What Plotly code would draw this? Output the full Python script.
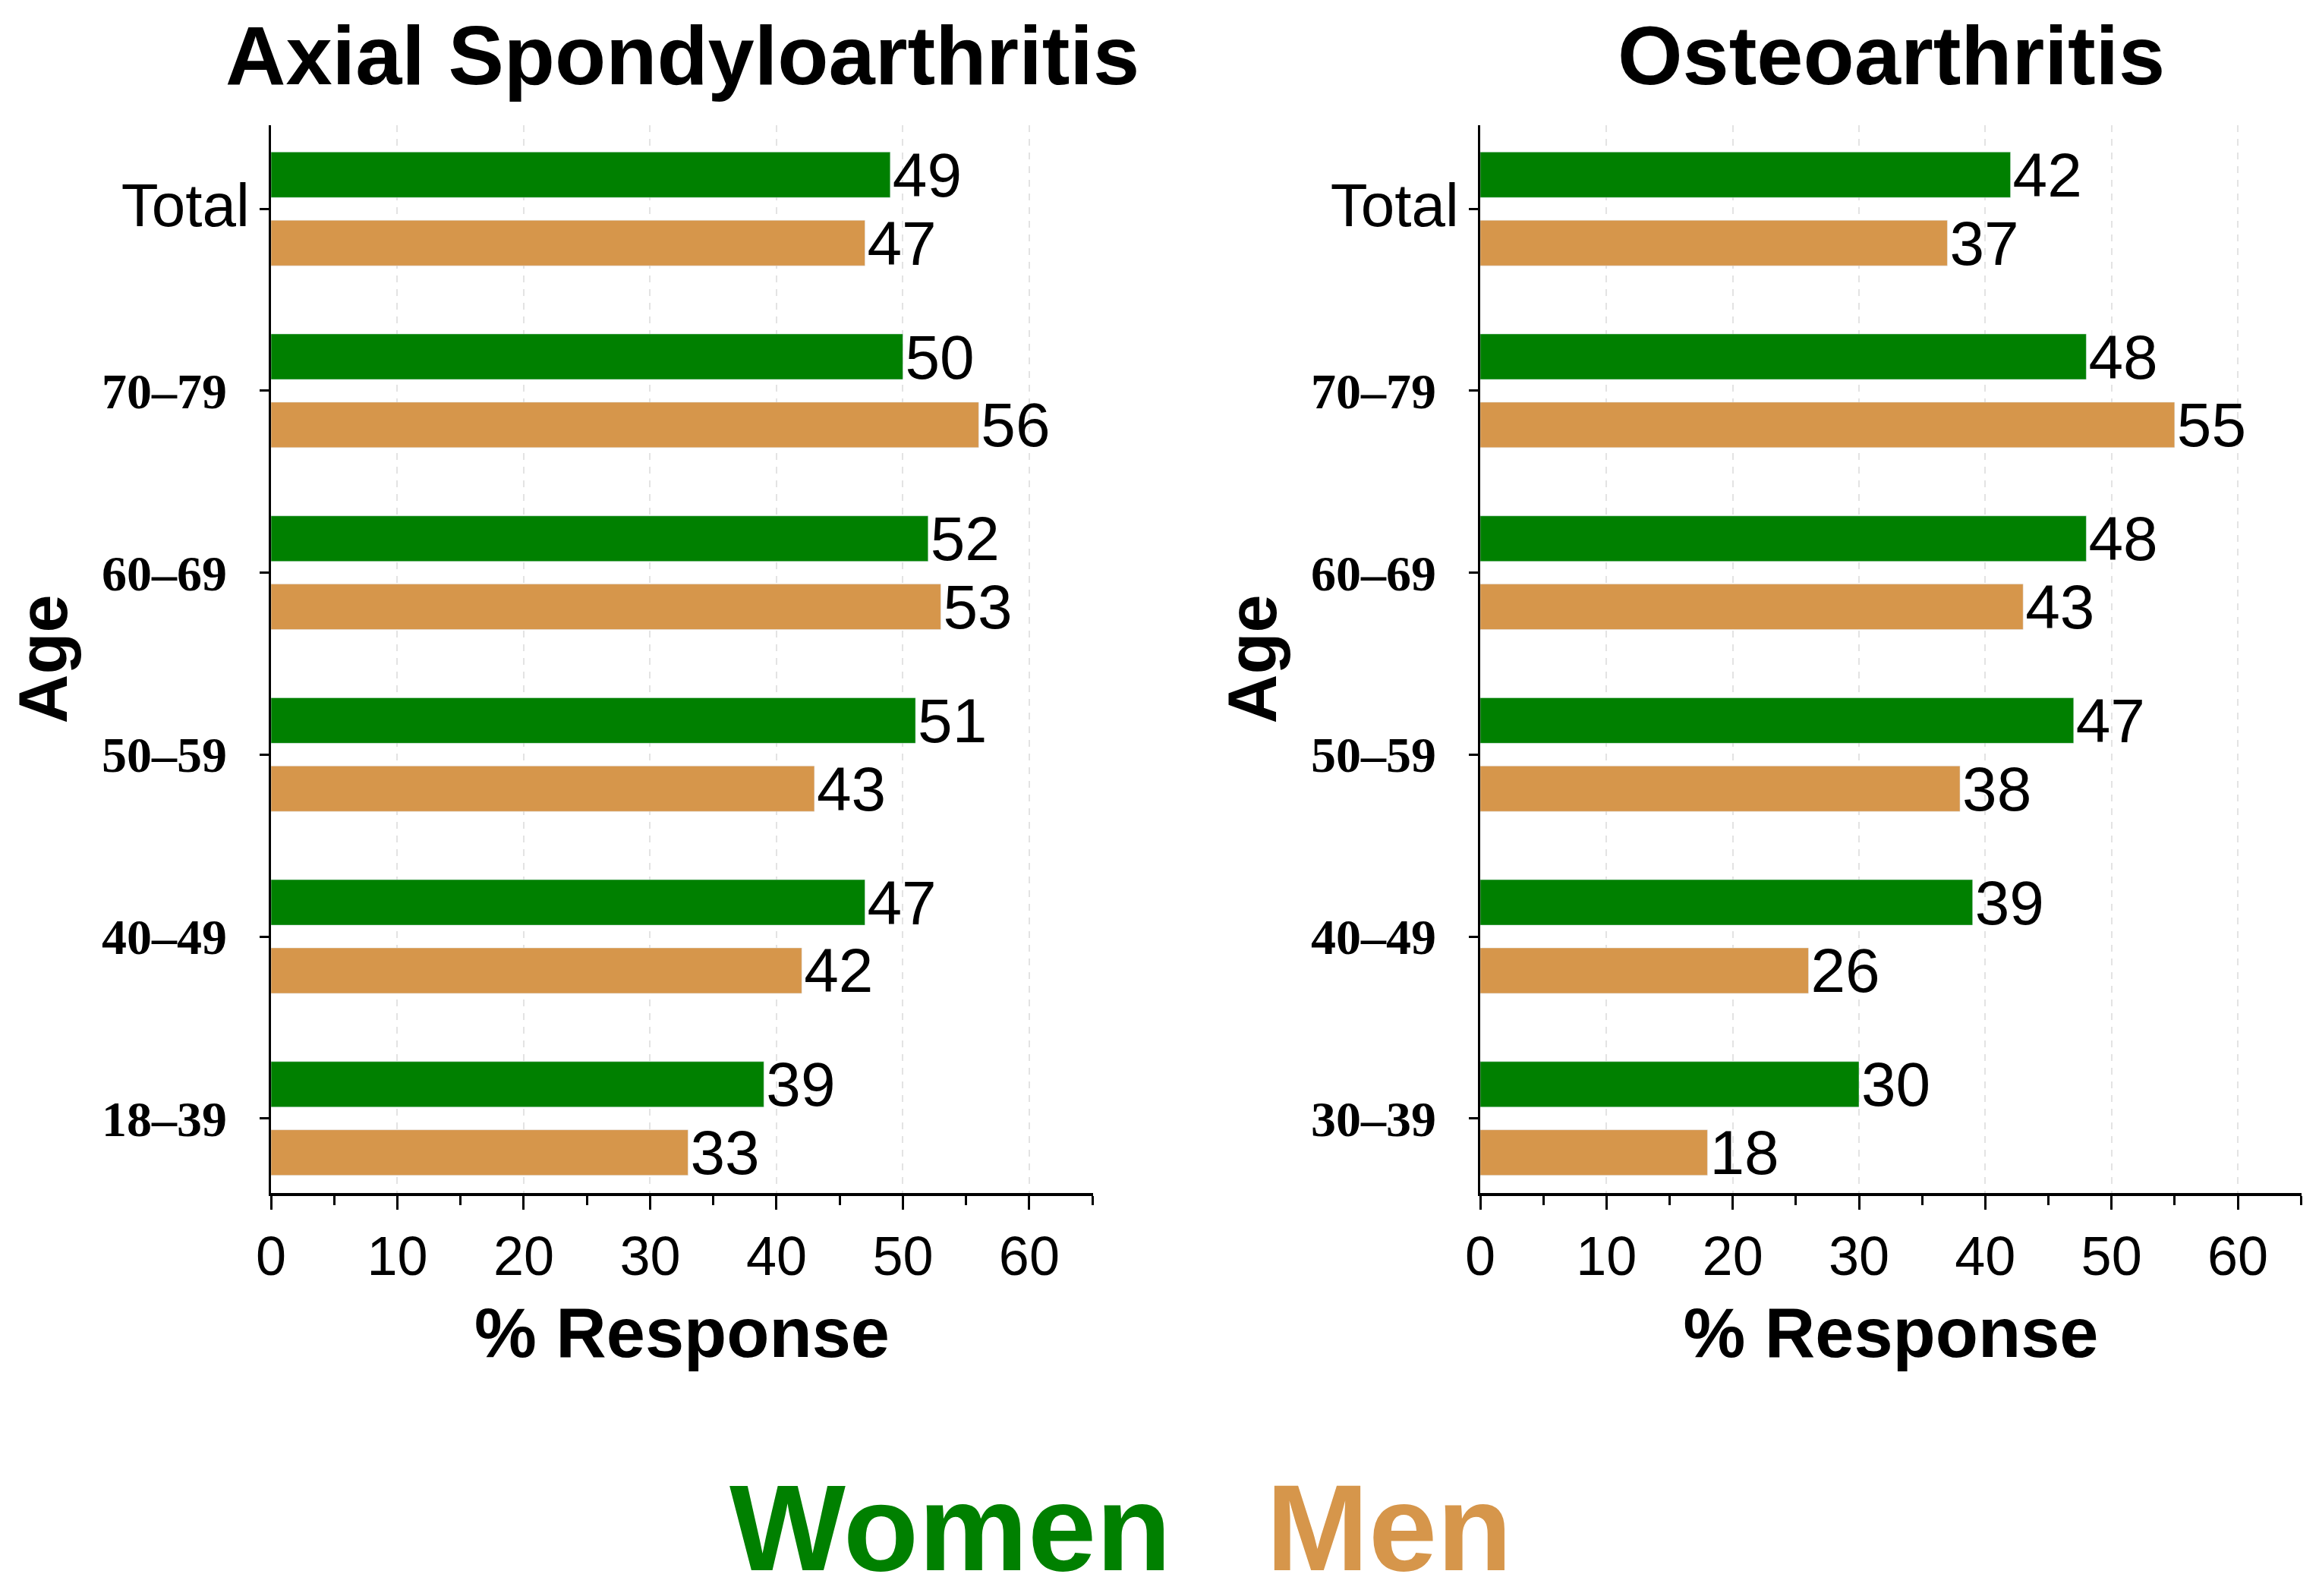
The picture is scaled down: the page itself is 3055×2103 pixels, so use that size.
import plotly.graph_objects as go

# ---- data ----
ages_axspa = ["18–39", "40–49", "50–59", "60–69", "70–79", "Total"]
women_axspa = [39, 47, 51, 52, 50, 49]
men_axspa = [33, 42, 43, 53, 56, 47]

ages_oa = ["30–39", "40–49", "50–59", "60–69", "70–79", "Total"]
women_oa = [30, 39, 47, 48, 48, 42]
men_oa = [18, 26, 38, 43, 55, 37]

panel_titles = ["Axial Spondyloarthritis", "Osteoarthritis"]
x_ticks = [0, 10, 20, 30, 40, 50, 60]
series_names = ["Women", "Men"]

GREEN = "#008000"
ORANGE = "#D6964B"
SANS = "Liberation Sans, Arial, sans-serif"
SERIF = "Liberation Serif, Times New Roman, serif"

W, H = 3055, 2103

fig = go.Figure()

def add_panel(ages, women, men, xa, ya):
    fig.add_trace(go.Bar(
        y=ages, x=men, orientation="h", name="Men", marker_color=ORANGE,
        text=[str(v) for v in men], textposition="outside",
        textfont=dict(family=SANS, size=82, color="black"),
        constraintext="none", cliponaxis=False, showlegend=False,
        xaxis=xa, yaxis=ya))
    fig.add_trace(go.Bar(
        y=ages, x=women, orientation="h", name="Women", marker_color=GREEN,
        text=[str(v) for v in women], textposition="outside",
        textfont=dict(family=SANS, size=82, color="black"),
        constraintext="none", cliponaxis=False, showlegend=False,
        xaxis=xa, yaxis=ya))

add_panel(ages_axspa, women_axspa, men_axspa, "x", "y")
add_panel(ages_oa, women_oa, men_oa, "x2", "y2")

def ticktexts(ages):
    out = []
    for a in ages:
        if a == "Total":
            out.append('<span style="font-family:Liberation Sans;font-weight:normal;font-size:80px">Total</span>')
        else:
            out.append(a + "\u00a0\u2009")
    return out

ydom = [1 - 1572 / H, 1 - 165 / H]
xdom1 = [357 / W, 1440 / W]
xdom2 = [1950 / W, 3032 / W]

xcommon = dict(
    range=[0, 65.05], tickvals=x_ticks, ticks="outside", ticklen=18, tickwidth=3,
    tickcolor="black", showline=True, linewidth=4, linecolor="black",
    showgrid=True, gridcolor="#e3e3e3", griddash="dash", gridwidth=2,
    minor=dict(dtick=5, ticks="outside", ticklen=12, tickwidth=3, tickcolor="black", showgrid=False),
    tickfont=dict(family=SANS, size=72, color="black"),
    title=dict(text="<b>% Response</b>", font=dict(family=SANS, size=92, color="black"), standoff=30),
    zeroline=False, fixedrange=True, automargin=False,
)
ycommon = dict(
    type="category", range=[-0.41, 5.46], ticks="outside", ticklen=12, tickwidth=3,
    tickcolor="black", showline=True, linewidth=3, linecolor="black", showgrid=False,
    tickfont=dict(family=SERIF, size=66, color="black", weight="bold"),
    title=dict(text="<b>Age</b>", font=dict(family=SANS, size=90, color="black"), standoff=16),
    zeroline=False, fixedrange=True, automargin=False,
)

fig.update_layout(
    width=W, height=H, margin=dict(l=0, r=0, t=0, b=0, autoexpand=False),
    paper_bgcolor="white", plot_bgcolor="white",
    barmode="group", bargap=0.25, bargroupgap=0.333,
    xaxis=dict(domain=xdom1, anchor="y", **xcommon),
    xaxis2=dict(domain=xdom2, anchor="y2", **xcommon),
    yaxis=dict(domain=ydom, anchor="x", categoryorder="array", categoryarray=ages_axspa,
               tickvals=ages_axspa, ticktext=ticktexts(ages_axspa), **ycommon),
    yaxis2=dict(domain=ydom, anchor="x2", categoryorder="array", categoryarray=ages_oa,
                tickvals=ages_oa, ticktext=ticktexts(ages_oa), **ycommon),
    showlegend=False,
)

# panel titles
for t, xr in zip(panel_titles, ["x domain", "x2 domain"]):
    fig.add_annotation(text="<b>%s</b>" % t, xref=xr, x=0.5, yref="paper", y=1 - 72 / H,
                       xanchor="center", yanchor="middle", showarrow=False,
                       font=dict(family=SANS, size=110, color="black"))

# legend as coloured text
for name, col, px in zip(series_names, [GREEN, ORANGE], [1252, 1830]):
    fig.add_annotation(text="<b>%s</b>" % name, xref="paper", x=px / W, yref="paper", y=1 - 2012 / H,
                       xanchor="center", yanchor="middle", showarrow=False,
                       font=dict(family=SANS, size=162, color=col))

fig.write_html("out.html", config={"displayModeBar": False},
               post_script="document.body.style.margin='0';")
